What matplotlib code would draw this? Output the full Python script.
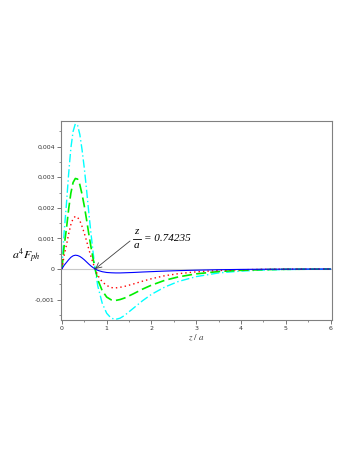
import matplotlib
matplotlib.use("Agg")
import matplotlib.pyplot as plt
from matplotlib.ticker import FuncFormatter, MultipleLocator

# z/a sample positions
z = [0, 0.05, 0.1, 0.15, 0.2, 0.25, 0.3, 0.35, 0.4, 0.45, 0.5, 0.55, 0.6,
     0.65, 0.7, 0.74235, 0.8, 0.9, 1.0, 1.1, 1.2, 1.3, 1.4, 1.6, 1.8, 2.0,
     2.3, 2.6, 3.0, 3.5, 4.0, 4.5, 5.0, 6.0]

# values in units of 1e-3
cyan = [0, 1.2, 2.1, 3.1, 3.95, 4.5, 4.75, 4.7, 4.4, 3.9, 3.3, 2.6, 1.85,
        1.15, 0.5, 0, -0.55, -1.12, -1.45, -1.61, -1.65, -1.61, -1.52, -1.28,
        -1.04, -0.83, -0.59, -0.41, -0.25, -0.13, -0.07, -0.035, -0.018, -0.005]
green = [0, 0.75, 1.3, 1.95, 2.48, 2.83, 2.96, 2.94, 2.76, 2.44, 2.06, 1.62,
         1.15, 0.71, 0.31, 0, -0.35, -0.71, -0.92, -1.01, -1.03, -1.0, -0.95,
         -0.81, -0.66, -0.53, -0.37, -0.26, -0.16, -0.085, -0.045, -0.022, -0.011, -0.003]
red = [0, 0.44, 0.77, 1.14, 1.45, 1.65, 1.72, 1.69, 1.58, 1.39, 1.17, 0.92,
       0.65, 0.40, 0.17, 0, -0.21, -0.42, -0.54, -0.61, -0.62, -0.6, -0.57,
       -0.49, -0.40, -0.32, -0.22, -0.155, -0.095, -0.05, -0.027, -0.013, -0.007, -0.002]
blue = [0, 0.12, 0.21, 0.3, 0.38, 0.43, 0.45, 0.44, 0.41, 0.36, 0.3, 0.23,
        0.16, 0.095, 0.04, 0, -0.045, -0.09, -0.115, -0.125, -0.13, -0.13,
        -0.125, -0.115, -0.1, -0.088, -0.07, -0.055, -0.04, -0.025, -0.015, -0.009, -0.005, -0.002]

xticks = [0, 1, 2, 3, 4, 5, 6]
yticks = [-0.001, 0, 0.001, 0.002, 0.003, 0.004]

plt.rcParams['mathtext.fontset'] = 'stix'

fig = plt.figure(figsize=(3.57, 4.62), dpi=100)
ax = fig.add_axes([61/357, 1-320/462, (332-61)/357, (320-121)/462])

s = 1e-3
ax.axhline(0, color='#c8c8c8', lw=0.8, zorder=1)
ax.plot(z, [v*s for v in cyan], color='#00ffff', lw=1.0, dashes=(6, 2, 1, 2))
ax.plot(z, [v*s for v in green], color='#00ee00', lw=1.2, dashes=(6, 2.5))
ax.plot(z, [v*s for v in red], color='#ff0000', lw=1.0, dashes=(1, 2.2))
ax.plot(z, [v*s for v in blue], color='#0000ff', lw=0.8)

ax.set_xlim(-0.02, 6.03)
ax.set_ylim(-0.00167, 0.00484)
ax.set_xticks(xticks)
ax.set_yticks(yticks)
ax.xaxis.set_minor_locator(MultipleLocator(0.5))
ax.yaxis.set_minor_locator(MultipleLocator(0.0005))

def yfmt(v, pos):
    if abs(v) < 1e-12:
        return '0'
    return ('%.3f' % v).replace('.', ',')
ax.yaxis.set_major_formatter(FuncFormatter(yfmt))

for sp in ax.spines.values():
    sp.set_color('#808080')
    sp.set_linewidth(0.8)
ax.tick_params(which='major', length=3, width=0.6, color='#606060',
               labelsize=4.5, pad=1.5, labelcolor='#333333')
ax.tick_params(which='minor', length=1.5, width=0.5, color='#606060')

ax.set_xlabel(r'$z\ /\ a$', fontsize=6.5, labelpad=1, color='#333333')
fig.text(12/357, 1-256/462, r'$a^4F_{ph}$', fontsize=8.5, va='center', ha='left')

# annotation: z/a = 0.74235 with arrow to the zero crossing
ax.annotate('', xy=(0.74235, 0), xytext=(130/357, 1-241/462),
            textcoords='figure fraction',
            arrowprops=dict(arrowstyle='->', color='#404040', lw=0.6,
                            shrinkA=0, shrinkB=0))
tfont = dict(family='Liberation Serif', style='italic', fontsize=8)
fig.text(136.5/357, 1-232/462, 'z', ha='center', va='center', **tfont)
fig.text(136.5/357, 1-246/462, 'a', ha='center', va='center', **tfont)
fig.add_artist(plt.Line2D([133/357, 140.5/357], [1-239/462, 1-239/462],
                          color='black', lw=0.6, transform=fig.transFigure))
fig.text(144/357, 1-239/462, '= 0.74235', ha='left', va='center', **tfont)

fig.savefig('out.png', dpi=100)
